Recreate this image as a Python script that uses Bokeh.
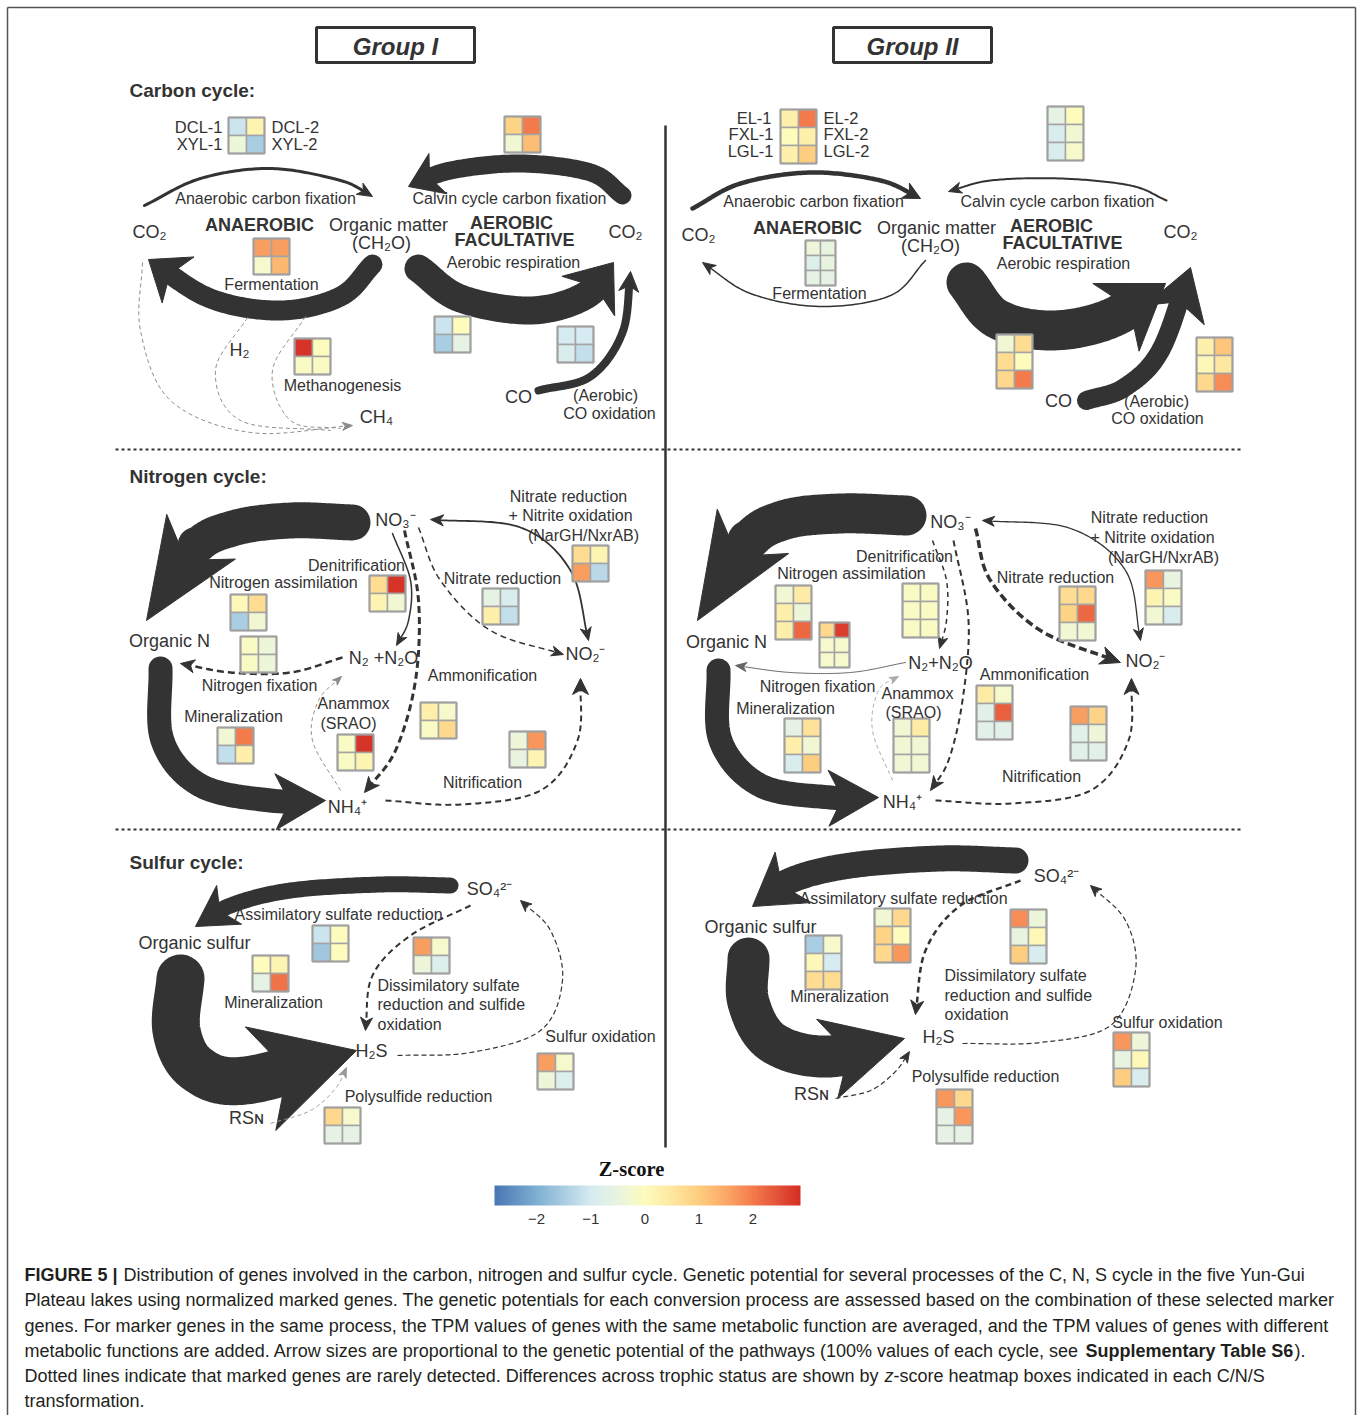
import numpy as np
from bokeh.plotting import figure
from bokeh.models import ColumnDataSource, Range1d, LinearColorMapper, ColorBar, FixedTicker
from bokeh.core.properties import value
from bokeh.embed import file_html
from bokeh.resources import INLINE

# ---------------- DATA: z-scores of the heatmap boxes (row-major) ----------------
# Group I boxes: 2 x 2  (DCL-1, DCL-2 / XYL-1, XYL-2)
C1_legend      = [-1.1, 0.2, -0.4, -1.5]
C1_calvin      = [0.9, 2.0, -0.3, 1.2]
C1_ferment     = [1.6, 1.6, -0.2, 1.3]
C1_methano     = [2.8, 0.0, -0.1, -0.1]
C1_aerobic     = [-1.1, 0.0, -1.5, -0.6]
C1_co_ox       = [-1.0, -1.0, -0.9, -1.2]
N1_nargh       = [0.7, 0.2, 1.6, -1.3]
N1_denitr      = [0.7, 2.8, 0.2, -0.3]
N1_nitrate_red = [-0.6, -0.9, 0.3, -1.2]
N1_assim       = [0.1, 0.7, -1.5, -0.3]
N1_fixation    = [-0.1, -0.4, -0.1, -0.4]
N1_ammon       = [0.3, -0.2, -0.1, 0.8]
N1_mineral     = [-0.3, 2.0, -1.2, 0.3]
N1_anammox     = [-0.1, 2.8, -0.1, 0.2]
N1_nitrif      = [-0.4, 1.7, -0.5, 0.2]
S1_assim       = [-1.1, 0.0, -1.6, 0.0]
S1_dissim      = [1.6, -0.2, -0.4, -0.8]
S1_mineral     = [0.0, 0.2, -0.6, 2.1]
S1_sulf_ox     = [1.6, -0.2, -0.4, -0.8]
S1_polysulf    = [0.8, -0.2, -0.6, -0.6]
# Group II boxes: 3 rows x 2 cols (EL-1, EL-2 / FXL-1, FXL-2 / LGL-1, LGL-2)
C2_legend      = [0.3, 2.0, 0.0, 0.3, 0.3, 1.0]
C2_calvin      = [-0.6, 0.0, -0.9, -0.3, -0.9, -0.2]
C2_ferment     = [-0.4, -0.5, -0.8, -0.5, -0.6, -0.6]
C2_aerobic     = [-0.3, 0.7, 0.7, 0.0, 0.8, 2.0]
C2_co_ox       = [0.3, 1.1, 0.1, 0.5, 0.8, 1.8]
N2_nargh       = [1.7, -0.5, 0.2, -0.1, -0.3, -0.9]
N2_nitrate_red = [0.7, 0.8, 0.9, 2.2, -0.3, -0.3]
N2_denitr      = [-0.1, -0.1, -0.1, -0.1, -0.1, -0.1]
N2_assim_a     = [-0.3, 0.4, 0.3, -0.4, 0.3, 2.2]
N2_assim_b     = [0.8, 2.7, -0.2, -0.2, -0.2, -0.2]
N2_ammon       = [0.4, -0.2, -0.7, 2.3, -0.7, -0.7]
N2_mineral     = [-0.6, 0.6, 0.3, -0.3, -0.9, 1.0]
N2_anammox     = [-0.3, 0.4, -0.3, -0.3, -0.3, -0.3]
N2_nitrif      = [1.6, 0.9, -0.7, -0.4, -0.7, -0.7]
S2_assim       = [-0.3, 0.8, 0.9, 0.0, 0.8, 1.7]
S2_dissim      = [1.8, -0.4, -0.5, 0.1, 1.0, -0.9]
S2_mineral     = [-1.5, -0.2, 0.1, -1.0, 0.7, 0.7]
S2_sulf_ox     = [1.7, -0.4, -0.5, 0.1, 1.0, -0.9]
S2_polysulf    = [1.7, 0.8, -0.6, 1.7, -0.6, -0.6]

zscore_ticks = [-2, -1, 0, 1, 2]
zscore_low, zscore_high = -2.78, 2.88

# ---------------- LAYOUT (positions: left, top, cell size, rows, cols) ----------------
boxes = [
    (C1_legend, 228, 117, 18, 2, 2), (C1_calvin, 504, 116, 18, 2, 2),
    (C1_ferment, 253, 238, 18, 2, 2), (C1_methano, 294, 338, 18, 2, 2),
    (C1_aerobic, 434, 316, 18, 2, 2), (C1_co_ox, 557, 326, 18, 2, 2),
    (N1_nargh, 572, 545, 18, 2, 2), (N1_denitr, 369, 575, 18, 2, 2),
    (N1_nitrate_red, 482, 588, 18, 2, 2), (N1_assim, 230, 594, 18, 2, 2),
    (N1_fixation, 240, 636, 18, 2, 2), (N1_ammon, 420, 702, 18, 2, 2),
    (N1_mineral, 217, 727, 18, 2, 2), (N1_anammox, 337, 734, 18, 2, 2),
    (N1_nitrif, 509, 731, 18, 2, 2),
    (S1_assim, 312, 925, 18, 2, 2), (S1_dissim, 413, 937, 18, 2, 2),
    (S1_mineral, 252, 955, 18, 2, 2), (S1_sulf_ox, 537, 1053, 18, 2, 2),
    (S1_polysulf, 324, 1107, 18, 2, 2),
    (C2_legend, 780, 109, 18, 3, 2), (C2_calvin, 1047, 106, 18, 3, 2),
    (C2_ferment, 805, 240, 15, 3, 2), (C2_aerobic, 996, 334, 18, 3, 2),
    (C2_co_ox, 1196, 337, 18, 3, 2),
    (N2_nargh, 1145, 570, 18, 3, 2), (N2_nitrate_red, 1059, 586, 18, 3, 2),
    (N2_denitr, 902, 583, 18, 3, 2), (N2_assim_a, 775, 585, 18, 3, 2),
    (N2_assim_b, 819, 622, 15, 3, 2), (N2_ammon, 976, 685, 18, 3, 2),
    (N2_mineral, 784, 718, 18, 3, 2), (N2_anammox, 893, 718, 18, 3, 2),
    (N2_nitrif, 1070, 706, 18, 3, 2),
    (S2_assim, 874, 908, 18, 3, 2), (S2_dissim, 1010, 909, 18, 3, 2),
    (S2_mineral, 805, 935, 18, 3, 2), (S2_sulf_ox, 1113, 1032, 18, 3, 2),
    (S2_polysulf, 936, 1089, 18, 3, 2),
]

# ---------------- colour map ----------------
stops = [(-2.78, "#4a76b4"), (-2.0, "#7fb0d3"), (-1.0, "#d6ebf2"), (-0.5, "#e9f4e0"),
         (0.0, "#fdfcbd"), (0.5, "#fee7a0"), (1.0, "#fdce80"), (1.5, "#fba867"),
         (2.0, "#f47b4c"), (2.88, "#d42e25")]

def hex2rgb(h):
    return np.array([int(h[i:i + 2], 16) for i in (1, 3, 5)], float)

def make_palette(n=256):
    vs = np.linspace(zscore_low, zscore_high, n)
    sv = [s[0] for s in stops]
    out = []
    for v in vs:
        j = max(0, min(len(stops) - 2, np.searchsorted(sv, v) - 1))
        a, b = stops[j], stops[j + 1]
        t = (v - a[0]) / (b[0] - a[0])
        c = hex2rgb(a[1]) * (1 - t) + hex2rgb(b[1]) * t
        out.append("#%02x%02x%02x" % tuple(int(round(x)) for x in c))
    return out

palette = make_palette()
mapper = LinearColorMapper(palette=palette, low=zscore_low, high=zscore_high)

W, H = 1359, 1415
p = figure(width=W, height=H, x_range=Range1d(0, W), y_range=Range1d(H, 0),
           output_backend="svg", toolbar_location=None, min_border=0)
p.axis.visible = False
p.grid.visible = False
p.outline_line_color = None
p.background_fill_color = "white"
p.border_fill_color = "white"

DARK = "#333333"

# page border
p.line([7, 7], [7, H], line_color="#555555", line_width=1.5)
p.line([1355, 1355], [7, H], line_color="#555555", line_width=1.5)
p.line([7, 1355], [7, 7], line_color="#555555", line_width=1.5)

# dividers
p.line([665, 665], [125, 1147], line_color=DARK, line_width=2.5)
p.line([115, 1243], [449, 449], line_color=DARK, line_width=2, line_dash="3 3")
p.line([115, 1243], [829, 829], line_color=DARK, line_width=2, line_dash="3 3")

# group title boxes
p.rect(x=[395, 912], y=[44.5, 44.5], width=158, height=35, fill_color=None,
       line_color=DARK, line_width=3)

# ---------------- arrows ----------------
def spline(pts, n=30):
    P = np.array(pts, float)
    P = np.vstack([2 * P[0] - P[1], P, 2 * P[-1] - P[-2]])
    out = []
    for i in range(1, len(P) - 2):
        p0, p1, p2, p3 = P[i - 1], P[i], P[i + 1], P[i + 2]
        t = np.linspace(0, 1, n, endpoint=False)[:, None]
        out.append(0.5 * ((2 * p1) + (-p0 + p2) * t + (2 * p0 - 5 * p1 + 4 * p2 - p3) * t ** 2
                          + (-p0 + 3 * p1 - 3 * p2 + p3) * t ** 3))
    out.append(P[-2][None, :])
    return np.vstack(out)

def head(curve, L, Wd, bend=0.6):
    tip = curve[-1]
    d = np.linalg.norm(curve - tip, axis=1)
    idx = np.where(d >= L * 0.8)[0]
    ref = curve[idx[-1]] if len(idx) else curve[0]
    u = (tip - ref) / np.linalg.norm(tip - ref)
    perp = np.array([-u[1], u[0]])
    base = tip - u * L
    notch = tip - u * L * 0.72
    poly = np.array([tip, base + perp * Wd / 2, notch, base - perp * Wd / 2])
    keep = curve[d > L * bend]
    body = np.vstack([keep, (tip - u * L * bend)[None, :]])
    return poly, body

def arrow(pts, w, L=12, Wd=10, color=DARK, dash="solid", end=True, start=False,
          cap="round", bend=0.6):
    c = spline(pts)
    heads = []
    if end:
        poly, c = head(c, L, Wd, bend)
        heads.append(poly)
    if start:
        poly, c2 = head(c[::-1], L, Wd, bend)
        c = c2[::-1]
        heads.append(poly)
    p.line(c[:, 0], c[:, 1], line_width=w, line_color=color, line_dash=dash,
           line_cap=cap if dash == "solid" else "butt", line_join="round")
    for hp in heads:
        p.patch(hp[:, 0], hp[:, 1], fill_color=color, line_color=color, line_width=1)

GREY = "#8a8a8a"
DASH = "6 4"
# Carbon I
arrow([(144, 205), (200, 178), (270, 168), (340, 180), (372, 196)], 3, 15, 13)
arrow([(622, 195), (590, 172), (520, 163), (450, 170), (408, 186)], 18, 32, 44)
arrow([(372, 264), (340, 296), (280, 310), (210, 298), (148, 259)], 20, 36, 56)
arrow([(418, 268), (460, 298), (530, 310), (585, 295), (613, 262)], 28, 42, 66)
arrow([(538, 390), (590, 376), (622, 332), (630, 271)], 8, 20, 20)
arrow([(142, 262), (140, 330), (170, 400), (250, 432), (352, 425)], 1, 10, 8, GREY, "4 3")
arrow([(247, 317), (215, 370), (240, 420), (330, 430)], 1, 10, 8, GREY, "4 3", end=False)
arrow([(305, 316), (272, 370), (290, 420), (340, 428)], 1, 10, 8, GREY, "4 3", end=False)
# Carbon II
arrow([(692, 208), (740, 183), (810, 172), (880, 180), (920, 198)], 4.5, 17, 17)
arrow([(1166, 200), (1130, 185), (1060, 178), (990, 180), (948, 191)], 2, 13, 11)
arrow([(925, 260), (890, 295), (820, 306), (750, 293), (702, 262)], 1.5, 13, 11)
arrow([(966, 282), (996, 318), (1050, 330), (1110, 318), (1165, 283)], 40, 60, 82)
arrow([(1086, 400), (1124, 387), (1160, 350), (1190, 267)], 19, 50, 62)
# Nitrogen I
arrow([(352, 522), (290, 520), (232, 528), (192, 550), (146, 620)], 36, 100, 82, bend=0.9)
arrow([(160, 668), (162, 740), (200, 785), (270, 800), (325, 800)], 24, 50, 56)
arrow([(392, 533), (410, 580), (408, 620), (396, 645)], 1.5, 12, 10)
arrow([(404, 530), (418, 600), (415, 680), (395, 750), (364, 792)], 3, 15, 14, DARK, "7 4")
arrow([(418, 527), (440, 580), (490, 630), (563, 654)], 1.5, 12, 10, DARK, DASH)
arrow([(430, 519), (520, 527), (570, 570), (588, 640)], 1.8, 13, 11, start=True)
arrow([(342, 657), (290, 672), (230, 672), (180, 663)], 2.5, 14, 13, DARK, "7 4")
arrow([(340, 790), (312, 740), (318, 700), (341, 676)], 1, 9, 7, GREY, "4 3")
arrow([(385, 800), (460, 804), (540, 790), (577, 740), (580, 678)], 2, 16, 16, DARK, DASH)
# Nitrogen II
arrow([(906, 515), (840, 513), (782, 520), (744, 545), (697, 620)], 40, 105, 84, bend=0.9)
arrow([(718, 670), (720, 740), (760, 785), (830, 797), (878, 797)], 24, 50, 56)
arrow([(932, 540), (946, 580), (946, 620), (939, 648)], 1.5, 12, 10, DARK, "5 4")
arrow([(953, 540), (968, 620), (962, 700), (948, 760), (930, 790)], 2, 14, 12, DARK, DASH)
arrow([(975, 528), (990, 580), (1040, 630), (1120, 662)], 3.5, 20, 18, DARK, "8 4")
arrow([(982, 520), (1070, 528), (1125, 570), (1140, 640)], 1.3, 12, 10, start=True)
arrow([(905, 662), (850, 672), (790, 672), (735, 665)], 1, 11, 9, "#666666")
arrow([(892, 780), (872, 730), (878, 690), (898, 676)], 1, 9, 7, "#aaaaaa", "4 3")
arrow([(935, 800), (1010, 803), (1090, 790), (1128, 740), (1131, 678)], 2, 16, 15, DARK, DASH)
# Sulfur I
arrow([(450, 885), (380, 884), (290, 890), (230, 905), (195, 926)], 16, 40, 46)
arrow([(180, 978), (176, 1030), (196, 1068), (245, 1080), (356, 1050)], 48, 100, 108)
arrow([(470, 905), (410, 935), (372, 975), (365, 1030)], 2, 13, 12, DARK, DASH)
arrow([(397, 1055), (470, 1052), (540, 1030), (562, 980), (550, 930), (520, 900)], 1.2, 11, 10, DARK, "5 3")
arrow([(270, 1123), (310, 1110), (335, 1088), (346, 1067)], 1, 10, 8, "#999999", "4 3")
# Sulfur II
arrow([(1015, 860), (940, 858), (850, 865), (790, 880), (752, 906)], 26, 50, 62)
arrow([(748, 958), (748, 1002), (772, 1042), (828, 1056), (904, 1038)], 42, 80, 82)
arrow([(1020, 880), (960, 905), (925, 950), (915, 1014)], 2.5, 14, 13, DARK, DASH)
arrow([(962, 1043), (1040, 1042), (1110, 1025), (1135, 970), (1125, 920), (1090, 885)], 1.2, 11, 10, DARK, "5 3")
arrow([(835, 1098), (870, 1090), (895, 1071), (909, 1051)], 1.2, 11, 9, DARK, "5 3")

# ---------------- heatmap cells ----------------
cx, cy, cw, ch, cz = [], [], [], [], []
ox, oy, ow, oh = [], [], [], []
for vals, left, top, cs, nr, nc in boxes:
    for k, z in enumerate(vals):
        r, c = divmod(k, nc)
        cx.append(left + cs * (c + 0.5))
        cy.append(top + cs * (r + 0.5))
        cw.append(cs)
        ch.append(cs)
        cz.append(z)
    ox.append(left + cs * nc / 2)
    oy.append(top + cs * nr / 2)
    ow.append(cs * nc)
    oh.append(cs * nr)
cells = ColumnDataSource(dict(x=cx, y=cy, w=cw, h=ch, z=cz))
p.rect(x="x", y="y", width="w", height="h", source=cells,
       fill_color={"field": "z", "transform": mapper}, line_color="#a4a4a4", line_width=1.5)
p.rect(x=ox, y=oy, width=ow, height=oh, fill_color=None, line_color="#a0a0a0", line_width=2)

# ---------------- texts ----------------
labels = []
def T(text, x, y, size=16, style="normal", align="center", color="#333333"):
    labels.append((text, x, y, "%gpx" % size, style, align, color))

BIG = 18
T("Group I", 395, 46, 24, "bold italic")
T("Group II", 912, 46, 24, "bold italic")
T("Carbon cycle:", 129, 90, 19, "bold", "left")
T("Nitrogen cycle:", 129, 476, 19, "bold", "left")
T("Sulfur cycle:", 129, 862, 19, "bold", "left")

# carbon I
T("DCL-1", 222, 126, 16.5, align="right"); T("XYL-1", 222, 143, 16.5, align="right")
T("DCL-2", 271, 126, 16.5, align="left"); T("XYL-2", 271, 143, 16.5, align="left")
T("Anaerobic carbon fixation", 265, 198)
T("Calvin cycle carbon fixation", 509, 198)
T("CO₂", 149, 231, BIG); T("CO₂", 625, 231, BIG)
T("ANAEROBIC", 259, 224, 18, "bold")
T("Organic matter", 388, 224, BIG); T("(CH₂O)", 381, 242, BIG)
T("AEROBIC", 511, 222, 18, "bold"); T("FACULTATIVE", 514, 239, 18, "bold")
T("Aerobic respiration", 513, 262)
T("Fermentation", 271, 284)
T("H₂", 239, 349, BIG)
T("Methanogenesis", 342, 385)
T("CH₄", 376, 416, BIG)
T("CO", 518, 396, BIG)
T("(Aerobic)", 605, 395); T("CO oxidation", 609, 413)
# carbon II
T("EL-1", 771, 117, 16.5, align="right"); T("FXL-1", 773, 133, 16.5, align="right"); T("LGL-1", 773, 150, 16.5, align="right")
T("EL-2", 823, 117, 16.5, align="left"); T("FXL-2", 823, 133, 16.5, align="left"); T("LGL-2", 823, 150, 16.5, align="left")
T("Anaerobic carbon fixation", 813, 201)
T("Calvin cycle carbon fixation", 1057, 201)
T("CO₂", 698, 234, BIG); T("CO₂", 1180, 231, BIG)
T("ANAEROBIC", 807, 227, 18, "bold")
T("Organic matter", 936, 227, BIG); T("(CH₂O)", 930, 245, BIG)
T("AEROBIC", 1051, 225, 18, "bold"); T("FACULTATIVE", 1062, 242, 18, "bold")
T("Aerobic respiration", 1063, 263)
T("Fermentation", 819, 293)
T("CO", 1058, 400, BIG)
T("(Aerobic)", 1156, 401); T("CO oxidation", 1157, 418)
# nitrogen I
T("NO₃⁻", 395, 519, BIG)
T("Nitrate reduction", 568, 496); T("+ Nitrite oxidation", 570, 515); T("(NarGH/NxrAB)", 583, 535)
T("Denitrification", 356, 565)
T("Nitrogen assimilation", 283, 582)
T("Nitrate reduction", 502, 578)
T("Organic N", 169, 640, BIG)
T("N₂ +N₂O", 383, 657, BIG)
T("NO₂⁻", 585, 653, BIG)
T("Ammonification", 482, 675)
T("Nitrogen fixation", 259, 685)
T("Mineralization", 233, 716)
T("Anammox", 353, 703); T("(SRAO)", 348, 723)
T("Nitrification", 482, 782)
T("NH₄⁺", 347, 806, BIG)
# nitrogen II
T("NO₃⁻", 950, 521, BIG)
T("Nitrate reduction", 1149, 517); T("+ Nitrite oxidation", 1152, 537); T("(NarGH/NxrAB)", 1163, 557)
T("Denitrification", 904, 556)
T("Nitrogen assimilation", 851, 573)
T("Nitrate reduction", 1055, 577)
T("Organic N", 726, 641, BIG)
T("N₂+N₂O", 940, 662, BIG)
T("NO₂⁻", 1145, 660, BIG)
T("Ammonification", 1034, 674)
T("Nitrogen fixation", 817, 686)
T("Anammox", 917, 693); T("(SRAO)", 913, 712)
T("Mineralization", 785, 708)
T("Nitrification", 1041, 776)
T("NH₄⁺", 902, 801, BIG)
# sulfur I
T("SO₄²⁻", 489, 888, BIG)
T("Assimilatory sulfate reduction", 338, 914)
T("Organic sulfur", 194, 942, BIG)
T("Mineralization", 273, 1002)
T("Dissimilatory sulfate", 377, 985, align="left")
T("reduction and sulfide", 377, 1004, align="left")
T("oxidation", 377, 1024, align="left")
T("H₂S", 371, 1050, BIG)
T("Sulfur oxidation", 600, 1036)
T("Polysulfide reduction", 418, 1096)
T("RSɴ", 246, 1117, BIG)
# sulfur II
T("SO₄²⁻", 1056, 875, BIG)
T("Assimilatory sulfate reduction", 903, 898)
T("Organic sulfur", 760, 926, BIG)
T("Mineralization", 839, 996)
T("Dissimilatory sulfate", 944, 975, align="left")
T("reduction and sulfide", 944, 995, align="left")
T("oxidation", 944, 1014, align="left")
T("H₂S", 938, 1036, BIG)
T("Sulfur oxidation", 1167, 1022)
T("Polysulfide reduction", 985, 1076)
T("RSɴ", 811, 1093, BIG)

# caption
CAP = "#231f20"
CS = 18
T("FIGURE 5 |", 24, 1274, CS, "bold", "left", CAP)
T("Distribution of genes involved in the carbon, nitrogen and sulfur cycle. Genetic potential for several processes of the C, N, S cycle in the five Yun-Gui", 123, 1274, CS, "normal", "left", CAP)
T("Plateau lakes using normalized marked genes. The genetic potentials for each conversion process are assessed based on the combination of these selected marker", 24, 1299, CS, "normal", "left", CAP)
T("genes. For marker genes in the same process, the TPM values of genes with the same metabolic function are averaged, and the TPM values of genes with different", 24, 1325, CS, "normal", "left", CAP)
T("metabolic functions are added. Arrow sizes are proportional to the genetic potential of the pathways (100% values of each cycle, see", 24, 1350, CS, "normal", "left", CAP)
T("Supplementary Table S6", 1085, 1350, CS, "bold", "left", CAP)
T(").", 1294, 1350, CS, "normal", "left", CAP)
T("Dotted lines indicate that marked genes are rarely detected. Differences across trophic status are shown by", 24, 1375, CS, "normal", "left", CAP)
T("z", 884, 1375, CS, "italic", "left", CAP)
T("-score heatmap boxes indicated in each C/N/S", 893, 1375, CS, "normal", "left", CAP)
T("transformation.", 24, 1400, CS, "normal", "left", CAP)

lab = ColumnDataSource(dict(text=[l[0] for l in labels], x=[l[1] for l in labels],
                            y=[l[2] for l in labels], size=[l[3] for l in labels],
                            style=[l[4] for l in labels], align=[l[5] for l in labels],
                            color=[l[6] for l in labels]))
p.text(x="x", y="y", text="text", source=lab, text_font=value("Liberation Sans"),
       text_font_size="size", text_font_style="style", text_align="align",
       text_baseline="middle", text_color="color")

# colour bar
p.text(x=[631], y=[1168], text=["Z-score"], text_font=value("Liberation Serif"),
       text_font_size="20.5px", text_font_style="bold", text_align="center",
       text_baseline="middle", text_color="#111111")
cb = ColorBar(color_mapper=mapper, orientation="horizontal", width=306, height=20,
              location=(494, 189), padding=0, margin=0,
              ticker=FixedTicker(ticks=zscore_ticks),
              major_label_overrides={-2: "−2", -1: "−1", 0: "0", 1: "1", 2: "2"},
              major_label_text_font_size="15px", major_label_text_color="#333333",
              major_label_text_font="Liberation Sans",
              major_tick_line_color=None, minor_tick_line_color=None,
              bar_line_color=None, border_line_color=None,
              background_fill_alpha=0, label_standoff=8)
p.add_layout(cb)

open("out.html", "w").write(file_html(p, INLINE))
